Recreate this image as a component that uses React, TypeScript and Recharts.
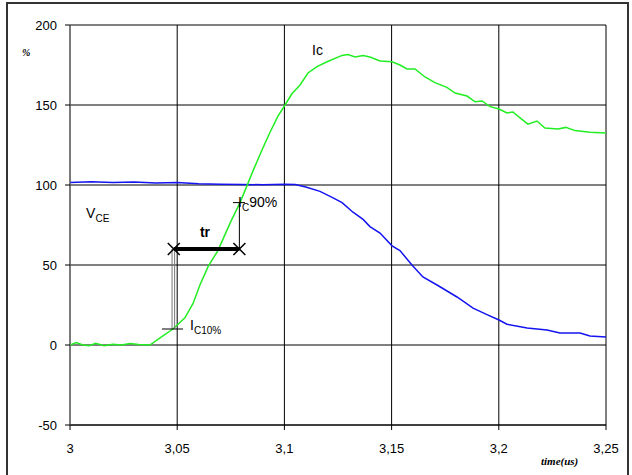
import { LineChart, Line, XAxis, YAxis, CartesianGrid, ReferenceLine, ReferenceDot } from 'recharts';

// Ic (green), in % of nominal
const icTime = [
  3, 3.003, 3.006, 3.009, 3.012, 3.016, 3.02, 3.024, 3.028, 3.032, 3.0373, 3.042, 3.048, 3.0536,
  3.0574, 3.0606, 3.0644, 3.069, 3.0746, 3.0793, 3.083, 3.0854, 3.0896, 3.0933, 3.097, 3.1003,
  3.1035, 3.1073, 3.111, 3.1152, 3.1199, 3.1269, 3.1297, 3.1329, 3.1367, 3.1399, 3.1446, 3.1502,
  3.1539, 3.1572, 3.1609, 3.1656, 3.1702, 3.1758, 3.1796, 3.1852, 3.1889, 3.1922, 3.1959, 3.2001,
  3.2038, 3.2066, 3.2099, 3.2136, 3.2178, 3.2215, 3.2276, 3.2313, 3.2355, 3.2425, 3.25,
];
const icValues = [
  0, 1.5, 0, -0.5, 1, -0.5, 0.5, 0, 1, 0.3, 0, 4.4, 10, 17,
  26, 37.5, 49, 59, 76, 89, 101, 109, 122, 133, 143, 150,
  157, 162.5, 170, 174, 177, 181, 181.5, 180, 181, 180, 177.5, 177,
  175, 172.5, 172.5, 167.5, 164, 161, 157.5, 155.6, 152, 152.5, 149, 147.5,
  145, 145.6, 142, 138, 140, 135.6, 135, 136, 134, 133, 132.5,
];

// VCE (blue)
const vceTime = [
  3, 3.01, 3.02, 3.03, 3.04, 3.05, 3.06, 3.07, 3.08, 3.09, 3.1, 3.105, 3.11, 3.1166,
  3.1227, 3.1269, 3.132, 3.1367, 3.1399, 3.1446, 3.1502, 3.1539, 3.1595, 3.1646, 3.1712,
  3.1805, 3.188, 3.1945, 3.2001, 3.2038, 3.2132, 3.2225, 3.2285, 3.2379, 3.2425, 3.25,
];
const vceValues = [
  101.5, 102, 101.5, 101.8, 101.2, 101.5, 100.8, 100.5, 100.3, 100.2, 100.5, 100.3, 98.8, 96,
  92, 89, 83, 78.5, 74, 70, 62, 59, 50, 42.5, 37.5,
  30, 23, 19, 15.6, 13, 10.6, 9.4, 7.5, 7.5, 5.6, 5,
];

const xTicks = [3, 3.05, 3.1, 3.15, 3.2, 3.25];
const yTicks = [-50, 0, 50, 100, 150, 200];

// rise time construction
const t10 = 3.0484;
const t90 = 3.079;
const trLevel = 60;
const ic10 = 10;
const ic90 = 89;

const icData = icTime.map((x, i) => ({ x, y: icValues[i] }));
const vceData = vceTime.map((x, i) => ({ x, y: vceValues[i] }));

const FONT = '"Liberation Sans", Arial, sans-serif';

const cross = (p: any) => (
  <g stroke="#000" strokeWidth={1.5}>
    <line x1={p.cx - 6} y1={p.cy - 6} x2={p.cx + 6} y2={p.cy + 6} />
    <line x1={p.cx - 6} y1={p.cy + 6} x2={p.cx + 6} y2={p.cy - 6} />
  </g>
);

const textAt = (main: string, sub: string, tail = '', bold = false) => (p: any) => (
  <text x={p.cx} y={p.cy} fontFamily={FONT} fontSize={14} fontWeight={bold ? 'bold' : 'normal'} fill="#000">
    {main}
    {sub && (
      <tspan fontSize={10} dy={4}>
        {sub}
      </tspan>
    )}
    {tail && (
      <tspan dy={sub ? -4 : 0}>
        {tail}
      </tspan>
    )}
  </text>
);

export default function App() {
  return (
    <div style={{ position: 'absolute', left: 0, top: 0, width: 632, height: 475, background: '#fff', overflow: 'hidden' }}>
      <div
        style={{
          position: 'absolute',
          left: 6,
          top: 2,
          width: 619,
          height: 490,
          border: '2px solid #333',
        }}
      />
      <LineChart width={632} height={475} margin={{ top: 25, right: 26, bottom: 0, left: 0 }}>
        <CartesianGrid stroke="#000" strokeWidth={1} />
        <XAxis
          type="number"
          dataKey="x"
          domain={[3, 3.25]}
          ticks={xTicks}
          height={50}
          tickSize={5}
          tickMargin={14}
          stroke="#000"
          tick={{ fill: '#000', fontSize: 13, fontFamily: FONT }}
          tickFormatter={(v) => String(v).replace('.', ',')}
        />
        <YAxis
          type="number"
          domain={[-50, 200]}
          ticks={yTicks}
          width={70}
          tickSize={5}
          tickMargin={8}
          axisLine={{ stroke: '#777' }}
          tickLine={{ stroke: '#000' }}
          tick={{ fill: '#000', fontSize: 13, fontFamily: FONT }}
        />
        <Line data={vceData} dataKey="y" type="linear" stroke="#1414f0" strokeWidth={1.5} dot={false} isAnimationActive={false} />
        <Line data={icData} dataKey="y" type="linear" stroke="#22ee22" strokeWidth={1.5} dot={false} isAnimationActive={false} />

        <ReferenceLine segment={[{ x: t10 - 0.0008, y: ic10 }, { x: t10 - 0.0008, y: trLevel }]} stroke="#777" strokeWidth={1} />
        <ReferenceLine segment={[{ x: t10 + 0.0004, y: ic10 }, { x: t10 + 0.0004, y: trLevel }]} stroke="#777" strokeWidth={1} />
        <ReferenceLine segment={[{ x: 3.0429, y: ic10 }, { x: 3.0527, y: ic10 }]} stroke="#000" strokeWidth={1} />
        <ReferenceLine segment={[{ x: t90, y: trLevel }, { x: t90, y: ic90 }]} stroke="#000" strokeWidth={1} />
        <ReferenceLine segment={[{ x: 3.076, y: ic90 }, { x: 3.0816, y: ic90 }]} stroke="#000" strokeWidth={1} />
        <ReferenceLine segment={[{ x: t10, y: trLevel }, { x: t90, y: trLevel }]} stroke="#000" strokeWidth={4} />
        <ReferenceDot x={t10} y={trLevel} shape={cross} />
        <ReferenceDot x={t90} y={trLevel} shape={cross} />

        <ReferenceDot x={3.1129} y={181} shape={textAt('Ic', '')} />
        <ReferenceDot x={3.0075} y={79.4} shape={textAt('V', 'CE')} />
        <ReferenceDot x={3.0606} y={67.5} shape={textAt('tr', '', '', true)} />
        <ReferenceDot x={3.056} y={9.4} shape={textAt('I', 'C10%')} />
        <ReferenceDot x={3.0784} y={86} shape={textAt('I', 'C', '90%')} />
      </LineChart>
      <div
        style={{
          position: 'absolute',
          left: 22,
          top: 47,
          fontFamily: '"Liberation Serif", serif',
          fontSize: 10,
          fontWeight: 'bold',
          fontStyle: 'italic',
        }}
      >
        %
      </div>
      <div
        style={{
          position: 'absolute',
          left: 541,
          top: 455,
          fontFamily: '"Liberation Serif", serif',
          fontSize: 11,
          fontWeight: 'bold',
          fontStyle: 'italic',
        }}
      >
        time(us)
      </div>
    </div>
  );
}
